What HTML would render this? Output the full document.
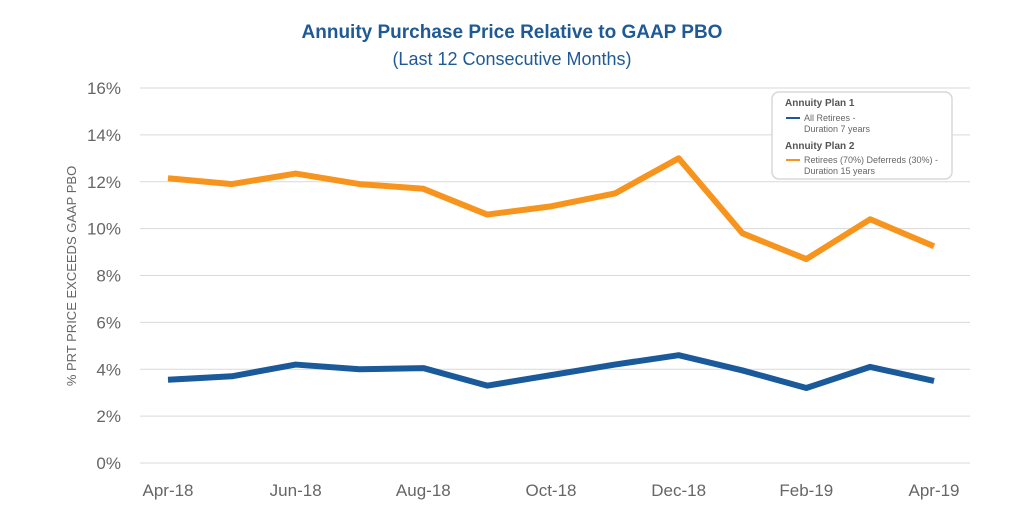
<!DOCTYPE html>
<html><head><meta charset="utf-8"><style>
body{margin:0;background:#fff;font-family:"Liberation Sans",sans-serif;}
</style></head><body>
<svg id="chart" width="1024" height="512" xmlns="http://www.w3.org/2000/svg" font-family="Liberation Sans, sans-serif">
<text x="512" y="38" text-anchor="middle" font-size="19" font-weight="bold" fill="#1f5a96">Annuity Purchase Price Relative to GAAP PBO</text>
<text x="512" y="65" text-anchor="middle" font-size="18" fill="#1f5a96">(Last 12 Consecutive Months)</text>
<text transform="translate(76,276) rotate(-90)" text-anchor="middle" font-size="13" fill="#666">% PRT PRICE EXCEEDS GAAP PBO</text>
<g id="grid"></g><g id="yt"></g><g id="xt"></g><g id="lines"></g>
<g>
<rect x="772" y="92" width="180" height="87" rx="7" fill="#fff" stroke="#d8d8d8" stroke-width="1.5"/>
<text x="785" y="106" font-size="10" font-weight="bold" fill="#555">Annuity Plan 1</text>
<line x1="786" y1="118" x2="800" y2="118" stroke="#1a5a9a" stroke-width="2"/>
<text x="804" y="121" font-size="9" fill="#666">All Retirees -</text>
<text x="804" y="132" font-size="9" fill="#666">Duration 7 years</text>
<text x="785" y="149" font-size="10" font-weight="bold" fill="#555">Annuity Plan 2</text>
<line x1="786" y1="160" x2="800" y2="160" stroke="#f7941d" stroke-width="2"/>
<text x="804" y="163" font-size="9" fill="#666">Retirees (70%) Deferreds (30%) -</text>
<text x="804" y="174" font-size="9" fill="#666">Duration 15 years</text>
</g>
</svg>
<script>
const months=["Apr-18","May-18","Jun-18","Jul-18","Aug-18","Sep-18","Oct-18","Nov-18","Dec-18","Jan-19","Feb-19","Mar-19","Apr-19"];
const plan2=[12.15,11.9,12.35,11.9,11.7,10.6,10.95,11.5,13.0,9.8,8.7,10.4,9.25];
const plan1=[3.55,3.7,4.2,4.0,4.05,3.3,3.75,4.2,4.6,3.95,3.2,4.1,3.5];
const yTicks=[0,2,4,6,8,10,12,14,16];
const NS="http://www.w3.org/2000/svg";
const x=i=>168+i*(934-168)/(months.length-1);
const y=v=>463-v*(463-88)/16;
function mk(t,a,p){const e=document.createElementNS(NS,t);for(const k in a)e.setAttribute(k,a[k]);p.appendChild(e);return e;}
const grid=document.getElementById('grid'),yt=document.getElementById('yt'),xt=document.getElementById('xt'),lines=document.getElementById('lines');
yTicks.forEach(v=>{
 const l=mk('line',{x1:140,x2:970,y1:y(v),y2:y(v),stroke:'#d9d9d9','stroke-width':1},grid);
 
 
 const t=mk('text',{x:121,y:y(v)+6,'text-anchor':'end','font-size':17,fill:'#666'},yt);
 t.textContent=v+'%';
 
 
});
months.forEach((m,i)=>{if(i%2)return;
 const t=mk('text',{x:x(i),y:496,'text-anchor':'middle','font-size':17,fill:'#666'},xt);
 t.textContent=m;
 
 
});
function line(d,c,n){
 const p=mk('polyline',{points:d.map((v,i)=>x(i)+','+y(v)).join(' '),fill:'none',stroke:c,'stroke-width':6,'stroke-linejoin':'round'},lines);
 
 
}
line(plan2,'#f7941d','plan2-line');
line(plan1,'#1a5a9a','plan1-line');
</script>
</body></html>
